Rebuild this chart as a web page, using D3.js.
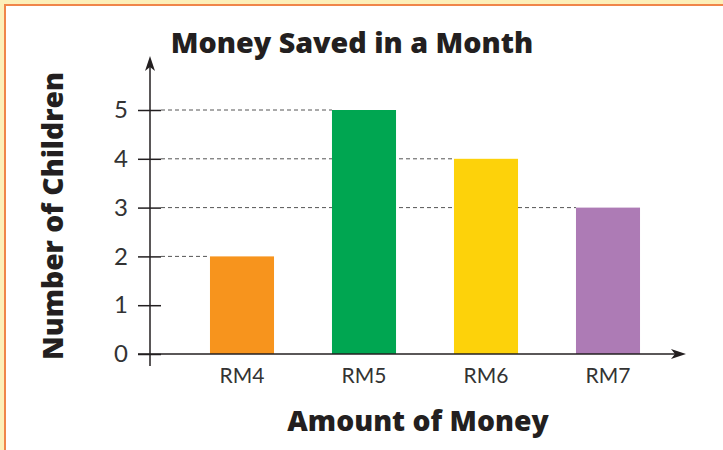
<!DOCTYPE html>
<html>
<head>
<meta charset="utf-8">
<script src="https://cdn.jsdelivr.net/npm/d3@7"></script>
<style>
  body { margin: 0; background: #fdefb9; }
  svg { display: block; }
</style>
</head>
<body>
<svg id="chart" width="723" height="450"></svg>
<script>
var categories = ["RM4", "RM5", "RM6", "RM7"]
var children   = [2, 5, 4, 3]
var colors     = ["#f7941d", "#00a651", "#fdd20a", "#ad7bb5"]
var yTicks     = [0, 1, 2, 3, 4, 5]

var data = categories.map((c, i) => ({cat: c, value: children[i], color: colors[i]}))

var svg = d3.select("#chart")
var ink = "#231f20"

// paper + orange border
svg.append("rect")
	.attr("x", 5).attr("y", 5).attr("width", 730).attr("height", 460)
	.attr("fill", "#fff").attr("stroke", "#f0854a").attr("stroke-width", 2)

var axisX = 150, axisY = 354

var x = d3.scaleBand()
	.domain(categories)
	.range([181, 669])
	.paddingInner(0.475)
	.paddingOuter(0.2375)

var y = d3.scaleLinear()
	.domain([0, 5])
	.range([axisY, 110])

// dashed guides from axis to each bar
svg.append("g").selectAll("line")
	.data(data)
	.enter().append("line")
	.attr("x1", axisX + 11)
	.attr("x2", d => x(d.cat))
	.attr("y1", d => y(d.value))
	.attr("y2", d => y(d.value))
	.attr("stroke", "#555")
	.attr("stroke-width", 1)
	.attr("stroke-dasharray", "4,3")

// bars
svg.append("g").selectAll("rect")
	.data(data)
	.enter().append("rect")
	.attr("x", d => x(d.cat))
	.attr("width", x.bandwidth())
	.attr("y", d => y(d.value))
	.attr("height", d => y(0) - y(d.value))
	.attr("fill", d => d.color)

// y axis
var yAxis = svg.append("g")
	.attr("transform", `translate(${axisX},0)`)
	.call(d3.axisLeft(y).tickValues(yTicks).tickSize(12).tickPadding(10).tickFormat(d3.format("d")))
yAxis.select(".domain").remove()
yAxis.selectAll(".tick line").attr("x1", 11).attr("stroke", ink).attr("stroke-width", 1.5)
yAxis.selectAll(".tick text")
	.attr("fill", "#333")
	.style("font-family", "Lato, 'Open Sans', sans-serif")
	.style("font-size", "24px")

// x axis labels
var xAxis = svg.append("g")
	.attr("transform", `translate(0,${axisY})`)
	.call(d3.axisBottom(x).tickSize(0).tickPadding(14))
xAxis.select(".domain").remove()
xAxis.selectAll(".tick text")
	.attr("fill", "#333")
	.style("font-family", "Lato, 'Open Sans', sans-serif")
	.style("font-size", "21px")

// axis lines with arrows
svg.append("line")
	.attr("x1", axisX).attr("x2", axisX)
	.attr("y1", 366).attr("y2", 62)
	.attr("stroke", ink).attr("stroke-width", 1.5)
svg.append("path")
	.attr("d", `M${axisX},56 L${axisX + 5},71 L${axisX},67 L${axisX - 5},71 Z`)
	.attr("fill", ink)

svg.append("line")
	.attr("x1", 138).attr("x2", 680)
	.attr("y1", axisY).attr("y2", axisY)
	.attr("stroke", ink).attr("stroke-width", 1.5)
svg.append("path")
	.attr("d", `M686,${axisY} L671,${axisY - 5} L675,${axisY} L671,${axisY + 5} Z`)
	.attr("fill", ink)

// titles
var bold = "'Open Sans', Lato, sans-serif"
svg.append("text")
	.attr("x", 352).attr("y", 53)
	.attr("text-anchor", "middle")
	.attr("fill", ink)
	.style("font-family", bold).style("font-weight", 800).style("font-size", "28.7px")
	.text("Money Saved in a Month")

svg.append("text")
	.attr("x", 418).attr("y", 431)
	.attr("text-anchor", "middle")
	.attr("fill", ink)
	.style("font-family", bold).style("font-weight", 800).style("font-size", "28.3px")
	.text("Amount of Money")

svg.append("text")
	.attr("transform", "translate(63,216) rotate(-90)")
	.attr("text-anchor", "middle")
	.attr("fill", ink)
	.style("font-family", bold).style("font-weight", 800).style("font-size", "28.3px")
	.text("Number of Children")
</script>
</body>
</html>
